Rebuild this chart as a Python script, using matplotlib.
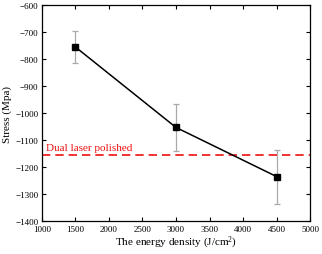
import matplotlib
matplotlib.use('Agg')
from matplotlib import pyplot as plt

energy = [1500, 3000, 4500]
stress = [-755, -1053, -1235]
stress_err = [60, 87, 100]
dual_laser = -1157

plt.rcParams.update({'font.family': 'Liberation Serif', 'font.size': 7,
                     'mathtext.fontset': 'custom', 'mathtext.rm': 'Liberation Serif'})
fig = plt.figure(figsize=(3.22, 2.55), dpi=100)
ax = fig.add_axes([0.130, 0.129, 0.833, 0.847])

ax.errorbar(energy, stress, yerr=stress_err, color='black', lw=1.1,
            marker='s', ms=4, ecolor='#aaaaaa', elinewidth=0.9, capsize=2, capthick=0.9)
ax.axhline(dual_laser, color='#ee1111', ls=(0, (5, 3)), lw=1.2)
ax.text(1060, dual_laser + 12, 'Dual laser polished', color='#ee1111',
        fontsize=8, va='bottom', ha='left')

ax.set_xlim(1000, 5000)
ax.set_ylim(-1400, -600)
ax.set_xticks(range(1000, 5001, 500))
ax.set_yticks(range(-1400, -599, 100))
ax.tick_params(direction='in', top=True, right=True, length=3, width=0.8, labelsize=6.5, pad=2.5)
for s in ax.spines.values():
    s.set_linewidth(0.9)
ax.set_xlabel(r'The energy density (J/cm$\mathregular{^2}$)', fontsize=8, labelpad=1)
ax.set_ylabel('Stress (Mpa)', fontsize=8, labelpad=2)

fig.savefig('out.png', dpi=100)
